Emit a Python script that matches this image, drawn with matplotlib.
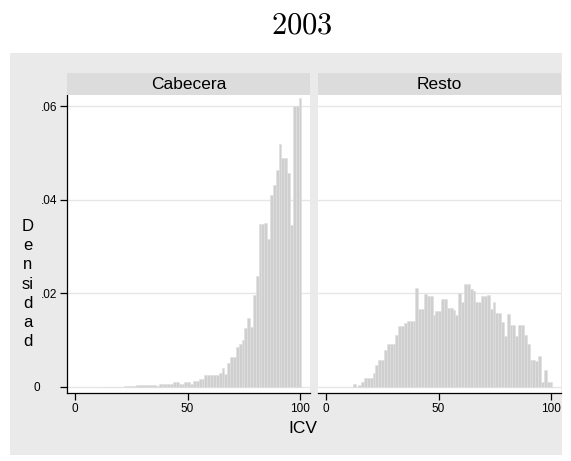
import matplotlib
matplotlib.use('Agg')
import matplotlib.pyplot as plt
from matplotlib.patches import Rectangle
import numpy as np

plt.rcParams['font.family'] = ['Liberation Sans', 'DejaVu Sans']
plt.rcParams['mathtext.fontset'] = 'cm'

# ---- data ----
title = '2003'
panels = ['Cabecera', 'Resto']
bin_start = 11.8
bin_width = 1.2686
dens_cabecera = [
    0, 0, 0, 0, 0, 0, 0, 0,
    0.0002, 0.0002, 0.0002, 0.0002,
    0.0004, 0.0004, 0.0004, 0.0004, 0.0004, 0.0003, 0.0004,
    0.0002,
    0.0006, 0.0006, 0.0006, 0.0006, 0.0006,
    0.0010, 0.0010,
    0.0006, 0.0006,
    0.0011, 0.0011,
    0.0006,
    0.0012, 0.0012,
    0.0016, 0.0016,
    0.0025, 0.0025,
    0.0026,
    0.0024, 0.0024,
    0.0029, 0.0039, 0.0027, 0.0051,
    0.0064, 0.0064,
    0.0084, 0.0091, 0.0099, 0.0125, 0.0146, 0.0127, 0.0196, 0.0236,
    0.0349, 0.0349, 0.0350, 0.0316, 0.0410, 0.0432, 0.0463, 0.0520,
    0.0490, 0.0490, 0.0457, 0.0346, 0.0600, 0.0600, 0.0617,
]
dens_resto = [
    0.0006, 0.0000, 0.0004, 0.0009, 0.0019, 0.0019, 0.0019, 0.0029, 0.0046, 0.0057,
    0.0057, 0.0079, 0.0091, 0.0091, 0.0091, 0.0110, 0.0130, 0.0129, 0.0136, 0.0140,
    0.0141, 0.0141, 0.0211, 0.0166, 0.0166, 0.0198, 0.0194, 0.0194, 0.0153, 0.0162,
    0.0162, 0.0187, 0.0187, 0.0168, 0.0168, 0.0164, 0.0154, 0.0200, 0.0181, 0.0219,
    0.0219, 0.0210, 0.0204, 0.0181, 0.0181, 0.0194, 0.0194, 0.0196, 0.0166, 0.0181,
    0.0158, 0.0158, 0.0139, 0.0108, 0.0155, 0.0132, 0.0132, 0.0108, 0.0132, 0.0132,
    0.0110, 0.0091, 0.0057, 0.0057, 0.0054, 0.0066, 0.0011, 0.0036, 0.0011, 0.0011,
]
yticks = [0, 0.02, 0.04, 0.06]
yticklabels = ['0' + ' ' * 5, '.02', '.04', '.06']
xticks = [0, 50, 100]
xticklabels = ['0', '50', '100']
ylabel = 'D\ne\nn\nsi\nd\na\nd'
xlabel = 'ICV'

# ---- layout ----
W, H = 571, 461
fig = plt.figure(figsize=(W / 100, H / 100), dpi=100)
fig.patch.set_facecolor('white')

def px(x0, y0, x1, y1):
    return [x0 / W, (H - y1) / H, (x1 - x0) / W, (y1 - y0) / H]

fig.add_artist(Rectangle((10 / W, (H - 455) / H), (562 - 10) / W, (455 - 53) / H,
                         transform=fig.transFigure, facecolor='#EAEAEA',
                         edgecolor='none', zorder=-10))

panel_px = [(67, 95, 310, 393), (318, 95, 561, 393)]
data = [dens_cabecera, dens_resto]
bar_color = '#CFCFCF'
grid_color = '#E6E6E6'

for i, (name, dens) in enumerate(zip(panels, data)):
    x0, y0, x1, y1 = panel_px[i]
    ax = fig.add_axes(px(x0, y0, x1, y1))
    ax.set_facecolor('white')
    edges = bin_start + bin_width * np.arange(len(dens))
    ax.bar(edges, dens, width=bin_width, align='edge', color=bar_color,
           edgecolor='#E0E0E0', linewidth=0.4, zorder=2)
    ax.set_xlim(-3.6, 104.4)
    ax.set_ylim(-0.00135, 0.0624)
    ax.set_yticks(yticks)
    ax.set_xticks(xticks)
    ax.set_xticklabels(xticklabels)
    ax.grid(axis='y', color=grid_color, linewidth=1.0, zorder=0)
    ax.set_axisbelow(True)
    for s in ['top', 'right']:
        ax.spines[s].set_visible(False)
    ax.spines['bottom'].set_color('black')
    ax.spines['bottom'].set_linewidth(0.9)
    ax.tick_params(axis='x', length=5, width=0.9, labelsize=8.5, pad=2, colors='black')
    if i == 0:
        ax.set_yticklabels(yticklabels)
        ax.spines['left'].set_color('black')
        ax.spines['left'].set_linewidth(0.9)
        ax.tick_params(axis='y', length=5, width=0.9, labelsize=8.5, pad=2, colors='black')
    else:
        ax.spines['left'].set_visible(False)
        ax.tick_params(axis='y', left=False, labelleft=False)

    sx = fig.add_axes(px(x0, 73, x1, 95))
    sx.set_facecolor('#DCDCDC')
    for s in sx.spines.values():
        s.set_visible(False)
    sx.set_xticks([])
    sx.set_yticks([])
    sx.text(0.5, 0.47, name, ha='center', va='center', fontsize=12.5, transform=sx.transAxes)

fig.text(302 / W, 1 - 25.5 / H, r'$' + title + r'$', fontsize=22, ha='center', va='center')
fig.text(28 / W, 1 - 284 / H, ylabel, ha='center', va='center', fontsize=12,
         linespacing=1.35, multialignment='center')
fig.text(302.5 / W, 1 - 428 / H, xlabel, ha='center', va='center', fontsize=12.5)

fig.savefig('out.png', dpi=100, facecolor='white')
